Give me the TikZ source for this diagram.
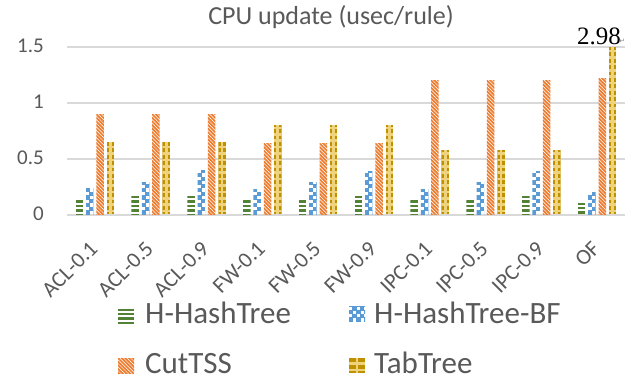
\documentclass[tikz,border=0pt]{standalone}
\usepackage{fontspec}
\setmainfont{Carlito}
\newfontfamily\serifnum{Liberation Serif}
\newfontfamily\symfont{DejaVu Sans}
\definecolor{txt}{HTML}{595959}
\definecolor{gridc}{HTML}{D9D9D9}
\definecolor{cgreen}{HTML}{548235}
\definecolor{cblue}{HTML}{5B9BD5}
\definecolor{corange}{HTML}{ED7D31}
\definecolor{cgold}{HTML}{BF9000}
\definecolor{cgoldlt}{HTML}{EFD27C}

% Fill patterns; arguments: left, top, right, bottom (pixel units, y down)
\newcommand\patGreen[4]{%
  \begin{scope}
    \clip (#1,#2) rectangle (#3,#4);
    \fill[white] (#1,#2) rectangle (#3,#4);
    \pgfmathtruncatemacro\nrows{((#4)-(#2))/4.4+1}
    \foreach \k in {0,...,\nrows}{\fill[cgreen] (#1,{(#2)+4.4*\k}) rectangle (#3,{(#2)+4.4*\k+2.4});}
  \end{scope}}
\newcommand\patBlue[4]{%
  \begin{scope}
    \clip (#1,#2) rectangle (#3,#4);
    \fill[white] (#1,#2) rectangle (#3,#4);
    \pgfmathtruncatemacro\nrows{((#4)-(#2))/3.75+1}
    \pgfmathtruncatemacro\ncols{((#3)-(#1))/3.75+1}
    \foreach \k in {0,...,\nrows}{\foreach \j in {0,...,\ncols}{%
      \pgfmathtruncatemacro\cellpar{mod(\k+\j,2)}%
      \ifnum\cellpar=0
        \fill[cblue] ({(#1)+3.75*\j-0.35},{(#4)-3.75*(\k+1)-0.35}) rectangle ({(#1)+3.75*(\j+1)+0.35},{(#4)-3.75*\k+0.35});
      \fi}}
  \end{scope}}
\newcommand\patOrange[4]{%
  \begin{scope}
    \clip (#1,#2) rectangle (#3,#4);
    \fill[white] (#1,#2) rectangle (#3,#4);
    \pgfmathtruncatemacro\nrows{((#4)-(#2))/3.6+2}
    \foreach \k in {-6,...,\nrows}{\draw[corange,line width=1.7] ({(#1)-1},{(#2)+3.6*\k-1}) -- ({(#3)+1},{(#2)+3.6*\k+(#3)-(#1)+1});}
  \end{scope}}
\newcommand\patGold[4]{%
  \begin{scope}
    \clip (#1,#2) rectangle (#3,#4);
    \fill[cgold] (#1,#2) rectangle (#3,#4);
    \fill[cgoldlt] ({((#1)+(#3))/2-1.4},#2) rectangle ({((#1)+(#3))/2+1.4},#4);
    \pgfmathtruncatemacro\nrows{((#4)-(#2))/6.4+1}
    \foreach \k in {0,...,\nrows}{\fill[cgoldlt] (#1,{(#4)-6.4*\k-4.5}) rectangle (#3,{(#4)-6.4*\k-2.0});}
  \end{scope}}

\tikzset{
  gridline/.style={draw=gridc, line width=1.3pt},
  ticklbl/.style={text=txt, inner sep=0pt, anchor=east, font=\fontsize{21}{24}\selectfont},
  catlbl/.style={text=txt, inner sep=0pt, anchor=east, rotate=45, font=\fontsize{22}{24}\selectfont},
  leglbl/.style={text=txt, inner sep=0pt, anchor=base west, font=\fontsize{31}{35}\selectfont},
}

\begin{document}
\begin{tikzpicture}[x=1pt, y=-1pt]
  \useasboundingbox (0,0) rectangle (637,382);
  \fill[white] (0,0) rectangle (637,382);

  % title
  \node[text=txt, inner sep=0pt, anchor=base, font=\fontsize{26}{29}\selectfont] (title) at (331,25) {CPU update (usec/rule)};

  % horizontal grid and value axis labels
  \foreach \v/\lbl [count=\n] in {0/0, 0.5/0.5, 1/1, 1.5/1.5} {
    \draw[gridline] (67,{215-112*\v}) -- (625,{215-112*\v});
    \node[ticklbl] (tick\n) at (44,{214-112*\v}) {\lbl};
  }

  % bars: green, blue, orange, gold per category
  \foreach \i/\name/\g/\b/\o/\t in {
      0/ACL-0.1/0.13/0.24/0.9/0.65,
      1/ACL-0.5/0.17/0.29/0.9/0.65,
      2/ACL-0.9/0.17/0.40/0.9/0.65,
      3/FW-0.1/0.13/0.23/0.64/0.80,
      4/FW-0.5/0.13/0.29/0.64/0.80,
      5/FW-0.9/0.17/0.39/0.64/0.80,
      6/IPC-0.1/0.13/0.23/1.2/0.58,
      7/IPC-0.5/0.13/0.29/1.2/0.58,
      8/IPC-0.9/0.17/0.39/1.2/0.58,
      9/OF/0.11/0.20/1.22/1.5} {
    \pgfmathsetmacro\cx{67+55.8*(\i+0.5)}
    \pgfmathsetmacro\xga{\cx-19.25}\pgfmathsetmacro\xgb{\cx-11.75}
    \pgfmathsetmacro\xba{\cx-8.95}\pgfmathsetmacro\xbb{\cx-1.45}
    \pgfmathsetmacro\xoa{\cx+1.45}\pgfmathsetmacro\xob{\cx+8.95}
    \pgfmathsetmacro\xta{\cx+11.75}\pgfmathsetmacro\xtb{\cx+19.25}
    \pgfmathsetmacro\yg{215-112*\g}
    \pgfmathsetmacro\yb{215-112*\b}
    \pgfmathsetmacro\yo{215-112*\o}
    \pgfmathsetmacro\yt{215-112*\t}
    \patGreen{\xga}{\yg}{\xgb}{214.4}
    \patBlue{\xba}{\yb}{\xbb}{214.4}
    \patOrange{\xoa}{\yo}{\xob}{214.4}
    \patGold{\xta}{\yt}{\xtb}{214.4}
    \node[catlbl] (cat\i) at ({\cx-1},245) {\name};
  }

  % value of the clipped bar
  \node[inner sep=0pt, anchor=base west, font=\serifnum\fontsize{25}{28}\selectfont] (ofval) at (577,45) {2.98};
  \node[inner sep=0pt, anchor=base west, text=gray, font=\symfont\fontsize{7}{8}\selectfont] (ofmark) at (619,44) {↵};

  % legend
  \patGreen{118}{308.5}{134}{323}
  \node[leglbl] (lg1) at (145,323) {H-HashTree};
  \patBlue{349}{306.5}{365}{321.5}
  \node[leglbl] (lg2) at (374,323) {H-HashTree-BF};
  \patOrange{118}{358}{134}{373}
  \node[leglbl] (lg3) at (145,373) {CutTSS};
  \patGold{349}{358}{365}{373}
  \node[leglbl] (lg4) at (374,373) {TabTree};
\end{tikzpicture}
\end{document}
